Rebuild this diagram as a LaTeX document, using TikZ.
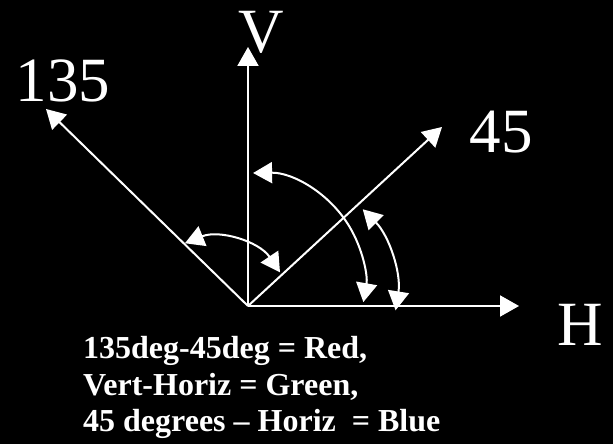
\documentclass[tikz,border=0pt]{standalone}
\usepackage{fontspec}
\setmainfont{Liberation Serif}
\usetikzlibrary{arrows.meta}
\begin{document}
\begin{tikzpicture}[x=1pt,y=1pt,
  axis/.style={draw=white, line width=2pt, -{Triangle[width=21pt,length=19pt]}},
  angarc/.style={draw=white, line width=2pt, {Triangle[width=21pt,length=19pt]}-{Triangle[width=21pt,length=19pt]}},
  biglabel/.style={text=white, font=\fontsize{63}{70}\selectfont, inner sep=0pt, anchor=base},
  legend/.style={text=white, font=\fontsize{32}{37}\selectfont\bfseries, inner sep=0pt, anchor=base west}]
\fill[black] (0,0) rectangle (613,444);
\useasboundingbox (0,0) rectangle (613,444);
% origin and arrow tips
\coordinate (O) at (248,138);
\coordinate (vtip) at (248,397);
\coordinate (htip) at (519,138);
\coordinate (dtip) at (46,335);
\coordinate (ftip) at (442,317);
% axes
\draw[axis] (O) -- (vtip);
\draw[axis] (O) -- (htip);
\draw[axis] (O) -- (dtip);
\draw[axis] (O) -- (ftip);
% labels
\node[biglabel] (lv) at (261,391) {V};
\node[biglabel] (lh) at (580,98) {H};
\node[biglabel] (ld) at (63,342) {135};
\node[biglabel] (lf) at (501,291) {45};
% angle arcs
\coordinate (c1) at (255,161);
\coordinate (c2) at (280,152);
\coordinate (c3) at (214.5,127.5);
\draw[angarc] ([shift={(91:110pt)}]c1) arc[start angle=91, end angle=-10, radius=110pt];
\draw[angarc] ([shift={(45:117pt)}]c2) arc[start angle=45, end angle=-9, radius=117pt];
\draw[angarc] ([shift={(112:79pt)}]c3) arc[start angle=112, end angle=34, radius=79pt];
% legend
\node[legend] (t1) at (83,85) {135deg-45deg = Red,};
\node[legend] (t2) at (83,48) {Vert-Horiz = Green,};
\node[legend] (t3) at (83,12) {45 degrees – Horiz\ \ = Blue};
\end{tikzpicture}
\end{document}
